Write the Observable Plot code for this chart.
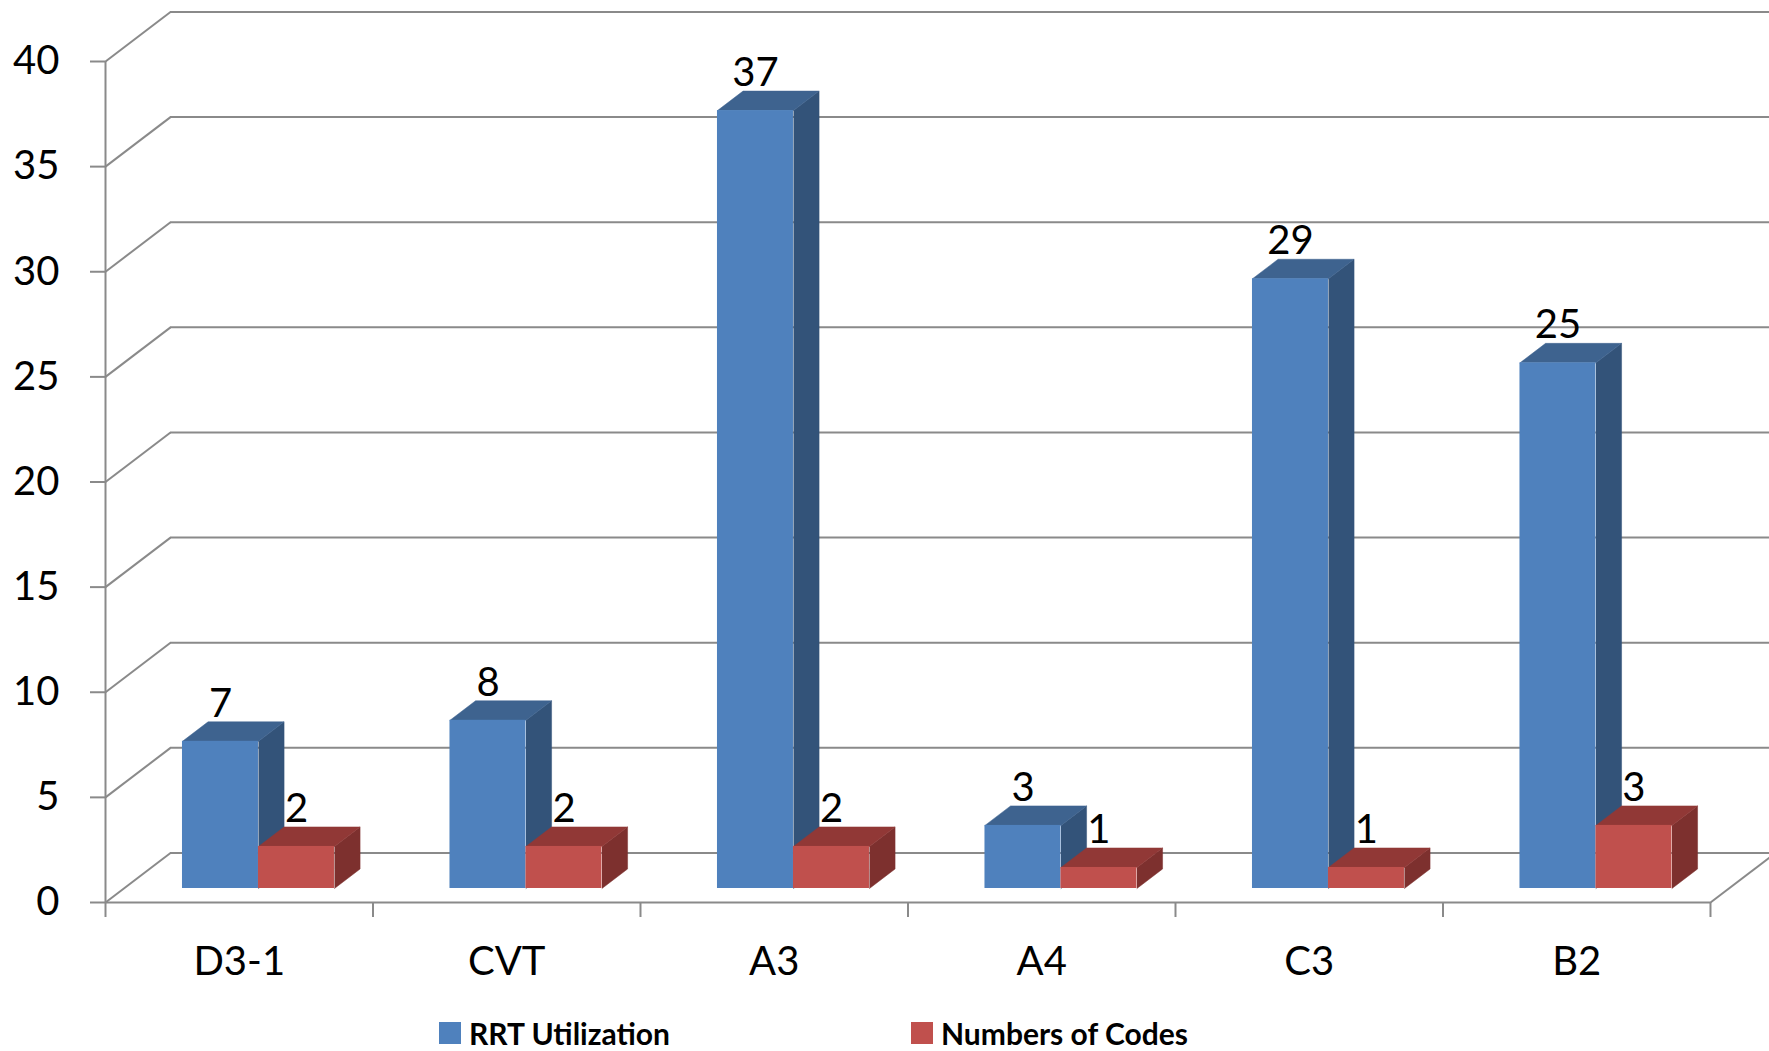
<!DOCTYPE html>
<html>
<head>
<meta charset="utf-8">
<script src="https://cdn.jsdelivr.net/npm/d3@7"></script>
<script src="https://cdn.jsdelivr.net/npm/@observablehq/plot@0.6"></script>
<style>
html,body{margin:0;padding:0;background:#fff;overflow:hidden}
svg{display:block}
#legend{position:relative;height:36px;width:1769px;font:bold 30px Lato,sans-serif;color:#000}
#legend .item{position:absolute;top:0;height:36px;display:flex;align-items:center;white-space:nowrap}
#legend .sw{display:inline-block;width:22px;height:22px;margin-right:8px}
</style>
</head>
<body>
<div id="chart"></div>
<div id="legend"></div>
<script>
const categories = ["D3-1", "CVT", "A3", "A4", "C3", "B2"];
const rrtUtilization = [7, 8, 37, 3, 29, 25];
const numbersOfCodes = [2, 2, 2, 1, 1, 3];
const yTicks = [0, 5, 10, 15, 20, 25, 30, 35, 40];
const seriesNames = ["RRT Utilization", "Numbers of Codes"];
const faceColors = ["#4F81BD", "#C0504D"];
const topColors = ["#3E638F", "#913836"];
const sideColors = ["#335379", "#7D302E"];

// Oblique projection of the chart's box, in data units
const depthX = 0.243, depthY = 2.355;   // full wall depth along x and value
const zFront = 0.283, zBack = 0.677;    // bar front and back planes, as fractions of the depth
const barStart = 0.219, barWidth = 0.2841; // inside a category band
const xMax = 6.2206;
const W = 1769, H = 1015;
const font = "Lato, sans-serif";
const axisColor = "#8a8a8a";

const px = (x, z) => x + z * depthX;
const py = (v, z) => v + z * depthY;

const series = [rrtUtilization, numbersOfCodes];
const bars = series.flatMap((vals, s) => vals.map((v, i) => ({
  s, i, v, x0: i + barStart + s * barWidth, x1: i + barStart + (s + 1) * barWidth
})));

function poly(b, pts, face) {
  return pts.map(([x, v, z]) => ({id: `${b.s}-${b.i}-${face}`, x: px(x, z), y: py(v, z)}));
}
const sides = s => bars.filter(b => b.s === s).flatMap(b => poly(b, [
  [b.x1, 0, zFront], [b.x1, 0, zBack], [b.x1, b.v, zBack], [b.x1, b.v, zFront]
], "side"));
const tops = s => bars.filter(b => b.s === s).flatMap(b => poly(b, [
  [b.x0, b.v, zFront], [b.x0, b.v, zBack], [b.x1, b.v, zBack], [b.x1, b.v, zFront]
], "top"));

const faceMarks = s => [
  Plot.line(sides(s), {x: "x", y: "y", z: "id", fill: sideColors[s], stroke: sideColors[s], strokeWidth: 0.5, curve: "linear"}),
  Plot.line(tops(s), {x: "x", y: "y", z: "id", fill: topColors[s], stroke: topColors[s], strokeWidth: 0.5, curve: "linear"}),
  Plot.rect(bars.filter(b => b.s === s), {
    x1: b => px(b.x0, zFront), x2: b => px(b.x1, zFront),
    y1: () => py(0, zFront), y2: b => py(b.v, zFront),
    fill: faceColors[s], inset: 0
  })
];

const plot = Plot.plot({
  width: W, height: H,
  marginLeft: 105, marginRight: 0, marginTop: 61, marginBottom: H - 902,
  x: {type: "linear", domain: [0, xMax], range: [105, W]},
  y: {type: "linear", domain: [0, 40], range: [902, 61]},
  style: {background: "#fff", fontFamily: font},
  marks: [
    // back wall and side lines
    Plot.ruleY(yTicks, {y: d => py(d, 1), x1: depthX, x2: xMax, stroke: axisColor, strokeWidth: 2}),
    Plot.link(yTicks, {x1: 0, y1: d => d, x2: depthX, y2: d => py(d, 1), stroke: axisColor, strokeWidth: 2}),
    Plot.link([6], {x1: d => d, y1: 0, x2: d => d + depthX, y2: depthY, stroke: axisColor, strokeWidth: 2}),
    // front axes
    Plot.ruleX([0], {y1: 0, y2: 40, stroke: axisColor, strokeWidth: 2}),
    Plot.ruleY([0], {x1: 0, x2: 6, stroke: axisColor, strokeWidth: 2}),
    Plot.axisY({ticks: yTicks, tickSize: 15, tickPadding: 31, tickFormat: d => d, stroke: axisColor, strokeWidth: 2, strokeOpacity: 1, fill: "#000", fontSize: 40, label: null}),
    Plot.axisX({ticks: d3.range(0, 7), tickSize: 15, tickFormat: () => "", stroke: axisColor, strokeWidth: 2, strokeOpacity: 1, label: null}),
    Plot.axisX({ticks: categories.map((c, i) => i + 0.5), tickSize: 0, tickPadding: 44, tickFormat: d => categories[d - 0.5], fill: "#000", fontSize: 40, label: null}),
    // bars
    ...faceMarks(0),
    ...faceMarks(1),
    // value labels
    Plot.text(bars, {
      x: b => px((b.x0 + b.x1) / 2, zFront),
      y: b => py(b.v, zBack),
      text: b => String(b.v),
      textAnchor: "middle", lineAnchor: "bottom", dy: -5,
      fontSize: 40, fill: "#000"
    })
  ]
});
document.getElementById("chart").appendChild(plot);

const legend = document.getElementById("legend");
[439, 911].forEach((left, s) => {
  const item = document.createElement("div");
  item.className = "item";
  item.style.left = left + "px";
  const sw = document.createElement("span");
  sw.className = "sw";
  sw.style.background = faceColors[s];
  item.appendChild(sw);
  item.appendChild(document.createTextNode(seriesNames[s]));
  legend.appendChild(item);
});
</script>
</body>
</html>
